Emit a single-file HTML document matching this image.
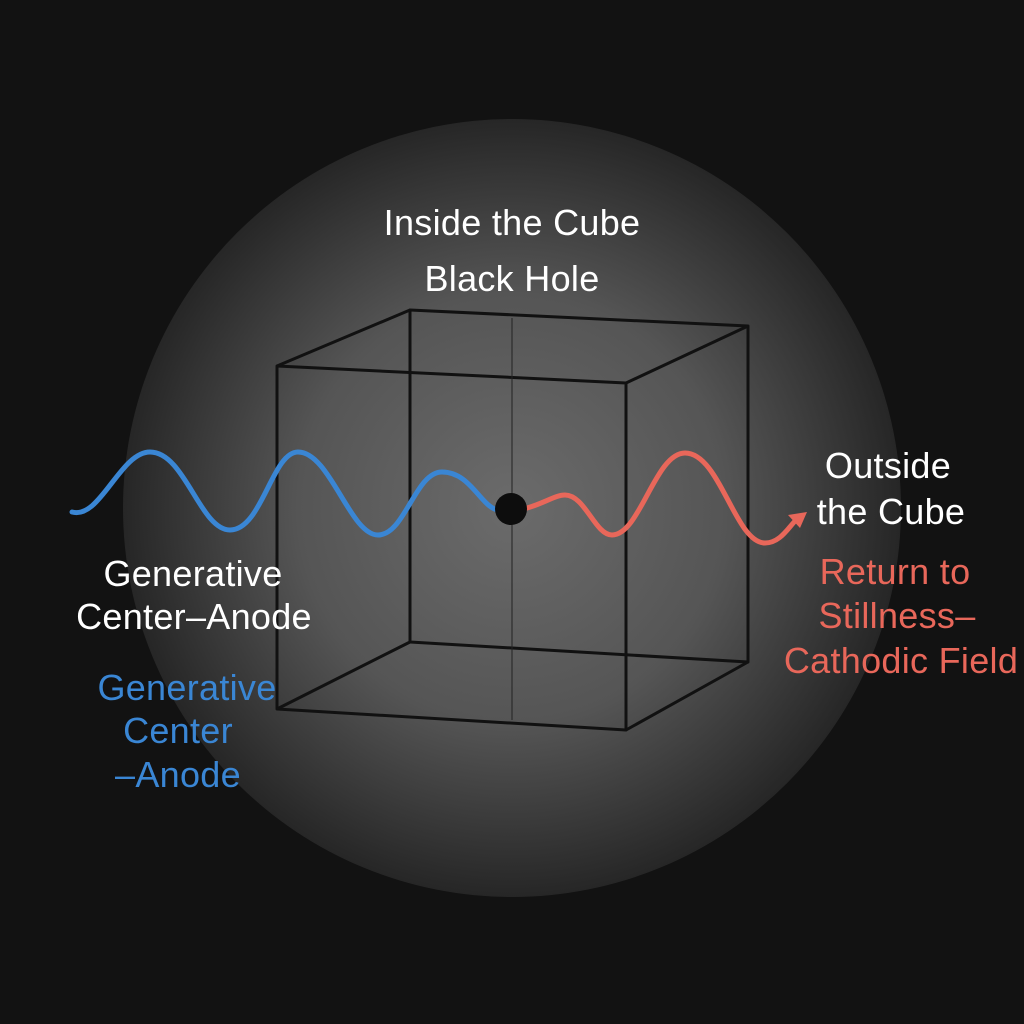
<!DOCTYPE html>
<html><head><meta charset="utf-8"><style>
html,body{margin:0;padding:0;background:#111;}
svg{display:block}
text{font-family:"Liberation Sans",sans-serif;font-size:36px;text-anchor:middle;letter-spacing:0.3px}
</style></head><body>
<svg width="1024" height="1024" viewBox="0 0 1024 1024" xmlns="http://www.w3.org/2000/svg">
<defs>
<radialGradient id="g" cx="512" cy="508" r="390" gradientUnits="userSpaceOnUse">
<stop offset="0" stop-color="#6b6b6b"/>
<stop offset="0.55" stop-color="#555"/>
<stop offset="1" stop-color="#262626"/>
</radialGradient>
</defs>
<rect width="1024" height="1024" fill="#121212"/>
<circle cx="512" cy="508" r="389" fill="url(#g)"/>
<g stroke="#111" stroke-width="3" fill="none" stroke-linejoin="round">
<polygon points="410,310 748,326 748,662 410,642"/>
<polygon points="277,366 626,383 626,730 277,709"/>
<line x1="277" y1="366" x2="410" y2="310"/>
<line x1="626" y1="383" x2="748" y2="326"/>
<line x1="626" y1="730" x2="748" y2="662"/>
<line x1="277" y1="709" x2="410" y2="642"/>
</g>
<line x1="512" y1="318" x2="512" y2="720" stroke="#222" stroke-width="1"/>
<path d="M72,512 C100,520 120,452 150,452 C185,452 200,530 230,530 C262,530 272,452 298,452 C330,452 350,535 378,535 C405,535 415,472 442,472 C470,472 480,505 497,510" stroke="#3a86d4" stroke-width="5" fill="none" stroke-linecap="round"/>
<path d="M527,508 C545,503 555,495 565,495 C585,495 595,535 612,535 C640,535 655,453 685,453 C720,453 735,543 765,543 C780,543 788,528 796,520" stroke="#e8675a" stroke-width="5" fill="none" stroke-linecap="round"/>
<polygon points="807,512 788,515 800,528" fill="#e8675a"/>
<circle cx="511" cy="509" r="16" fill="#0d0d0d"/>
<g fill="#fff">
<text x="512" y="235">Inside the Cube</text>
<text x="512" y="291">Black Hole</text>
<text x="888" y="478">Outside</text>
<text x="891" y="524">the Cube</text>
<text x="193" y="586">Generative</text>
<text x="194" y="629">Center–Anode</text>
</g>
<g fill="#e8675a">
<text x="895" y="584">Return to</text>
<text x="897" y="628">Stillness–</text>
<text x="901" y="673">Cathodic Field</text>
</g>
<g fill="#3a86d4">
<text x="187" y="700">Generative</text>
<text x="178" y="743">Center</text>
<text x="178" y="787">–Anode</text>
</g>
</svg>
</body></html>
